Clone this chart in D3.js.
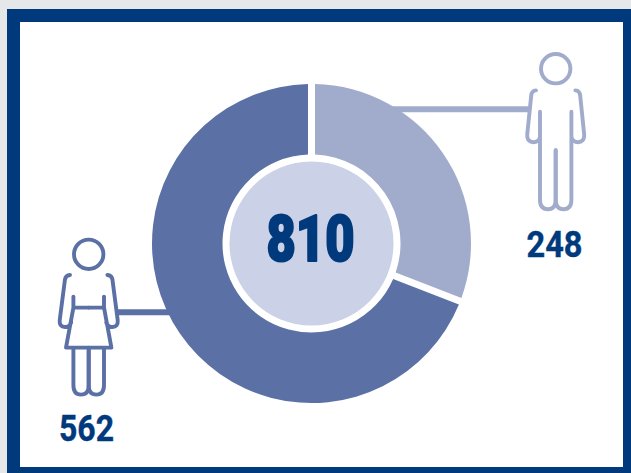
<!DOCTYPE html>
<html>
<head>
<meta charset="utf-8">
<script src="https://cdn.jsdelivr.net/npm/d3@7"></script>
<style>
  html, body { margin: 0; padding: 0; background: #e6e7e9; overflow: hidden; }
  svg { display: block; }
  text { font-family: Roboto, sans-serif; fill: #003a7d; text-anchor: middle; }
</style>
</head>
<body>
<div id="screen"></div>
<script>
const groups = ['men', 'women']
const counts = [248, 562]
const sliceColors = ['#a1accd', '#5b71a5']

const width = 631
const height = 473

const svg = d3.select('#screen').append('svg')
  .attr('width', width)
  .attr('height', height)

// cadre
svg.append('rect')
  .attr('x', 7)
  .attr('y', 9)
  .attr('width', 650)
  .attr('height', 480)
  .attr('fill', '#003a7d')
svg.append('rect')
  .attr('x', 20)
  .attr('y', 22)
  .attr('width', 603)
  .attr('height', 445)
  .attr('fill', '#fff')

const cx = 311.5
const cy = 243.5
const outerR = 159.5
const holeR = 89
const centerR = 82
const gap = 7

const color = d3.scaleOrdinal().domain(groups).range(sliceColors)

// traits de liaison, sous le donut
svg.append('line')
  .attr('x1', 380).attr('x2', 530)
  .attr('y1', 109.3).attr('y2', 109.3)
  .attr('stroke', color('men'))
  .attr('stroke-width', 6)
svg.append('line')
  .attr('x1', 117).attr('x2', 180)
  .attr('y1', 312.3).attr('y2', 312.3)
  .attr('stroke', color('women'))
  .attr('stroke-width', 6)

const pie = d3.pie().sort(null).padAngle(gap / outerR)
const arc = d3.arc()
  .innerRadius(holeR)
  .outerRadius(outerR)
  .padRadius(outerR)

const donut = svg.append('g').attr('transform', `translate(${cx},${cy})`)

donut.selectAll('path')
  .data(pie(counts))
  .join('path')
  .attr('d', arc)
  .attr('fill', (d, i) => color(groups[i]))

donut.append('circle')
  .attr('r', centerR)
  .attr('fill', '#cbd1e6')

donut.append('text')
  .attr('x', -1)
  .attr('y', 17.4)
  .attr('font-size', 65)
  .attr('font-weight', 900)
  .attr('textLength', 88)
  .attr('lengthAdjust', 'spacingAndGlyphs')
  .attr('stroke', '#003a7d')
  .attr('stroke-width', 2.2)
  .attr('stroke-linejoin', 'round')
  .text(d3.sum(counts))

// pictos : une moitié dessinée puis retournée
const manHalf = 'M-19.7,21.7 Q-24,22 -24.5,27 L-28.5,66 Q-29,73 -22.5,73.5 Q-17,73.5 -16,69 ' +
  'M-15.7,43 L-15.7,131 Q-15.7,140.5 -7.8,140.5 Q0,140.5 0,131 L0,81.5'
const womanHalf = 'M-18.7,20.7 Q-23,21 -23.7,25 L-29,66 Q-29.5,72.7 -23.7,72.7 Q-19,72.7 -17.5,68 ' +
  'M-15.3,42.3 L-15.3,53.3 L0,53.3 M-15.3,53.3 L-22.7,93.3 L0,93.3 ' +
  'M-15.3,93.3 L-15.3,130.7 Q-15.3,140.3 -7.7,140.3 Q0,140.3 0,130.7 L0,93.3'

function drawPerson (x, y, half, stroke, headR) {
  const g = svg.append('g')
    .attr('transform', `translate(${x},${y})`)
    .attr('fill', 'none')
    .attr('stroke', stroke)
    .attr('stroke-width', 3.9)
    .attr('stroke-linecap', 'round')
    .attr('stroke-linejoin', 'round')
  g.append('circle').attr('r', headR)
  g.append('path').attr('d', half)
  g.append('path').attr('d', half).attr('transform', 'scale(-1,1)')
}

drawPerson(555.7, 68.7, manHalf, color('men'), 14.7)
drawPerson(88.7, 254.3, womanHalf, color('women'), 14.7)

// valeurs
function drawValue (x, y, value, w) {
  svg.append('text')
    .attr('x', x)
    .attr('y', y)
    .attr('font-size', 36)
    .attr('font-weight', 700)
    .attr('textLength', w)
    .attr('lengthAdjust', 'spacingAndGlyphs')
    .attr('stroke', '#003a7d')
    .attr('stroke-width', 0.4)
    .text(value)
}

drawValue(554.5, 256.5, counts[0], 56)
drawValue(86.5, 440.5, counts[1], 55)
</script>
</body>
</html>
